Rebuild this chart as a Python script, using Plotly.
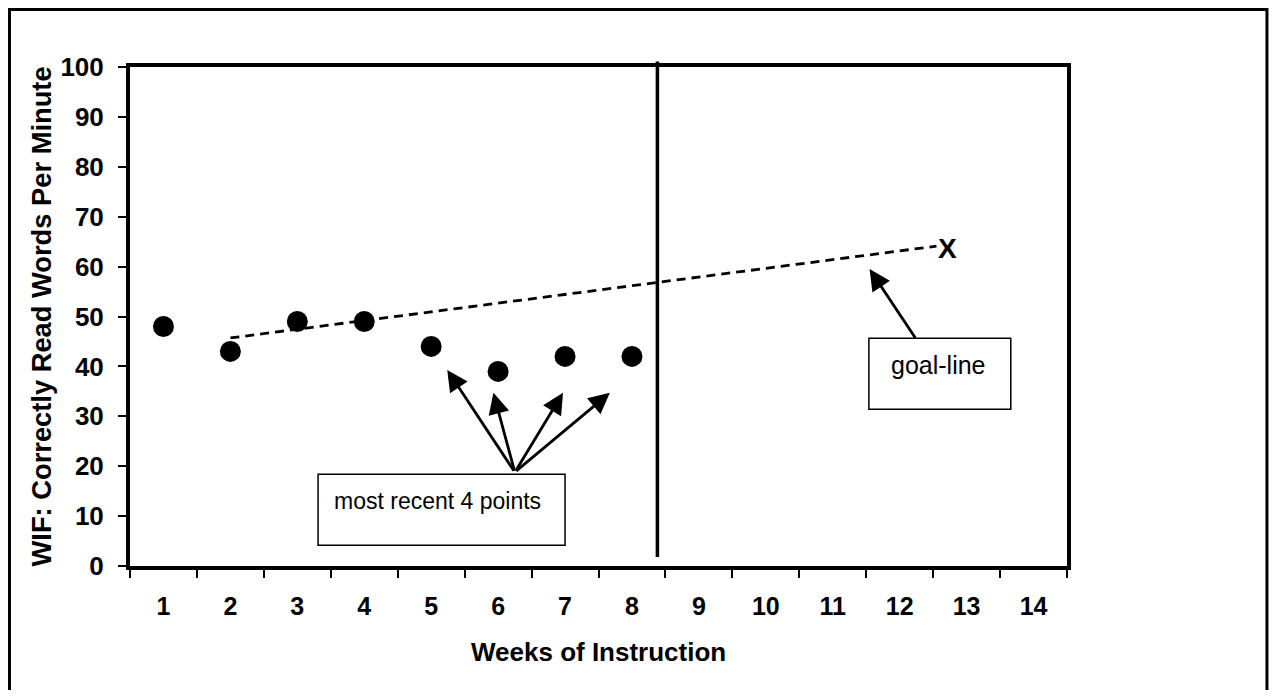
import plotly.graph_objects as go

# ---- data ----
week_labels = [str(i) for i in range(1, 15)]
weeks = list(range(1, 15))
obs_weeks = [1, 2, 3, 4, 5, 6, 7, 8]
obs_scores = [48, 43, 49, 49, 44, 39, 42, 42]
goal_x = [2, 12.55]
goal_y = [45.7, 64.1]
goal_mark_x = 12.72
goal_mark_y = 63.7
decision_x = 8.38
y_ticks = list(range(0, 101, 10))
recent_arrow_tail = (6.25, 18.8)
recent_arrow_heads = [(5.24, 39.3), (5.93, 34.7), (6.97, 34.7), (7.67, 34.7)]
goal_arrow_tail = (12.25, 45.4)
goal_arrow_head = (11.55, 59.5)
recent_box = (3.31, 7.0, 4.15, 18.38)
goal_box = (11.54, 13.66, 31.4, 45.63)

FONT = "Liberation Sans, Arial, Helvetica, sans-serif"

fig = go.Figure()

fig.add_trace(go.Scatter(
    x=goal_x, y=goal_y, mode="lines",
    line=dict(color="black", width=2.8, dash="9px,6px"),
    hoverinfo="skip", showlegend=False))

fig.add_trace(go.Scatter(
    x=obs_weeks, y=obs_scores, mode="markers",
    marker=dict(color="black", size=21),
    showlegend=False))

shapes = []
# decision (vertical) line
shapes.append(dict(type="line", xref="x", yref="paper",
                   x0=decision_x, x1=decision_x, y0=0.018, y1=1.011,
                   line=dict(color="black", width=3.5)))
# text boxes
for (x0, x1, y0, y1) in [recent_box, goal_box]:
    shapes.append(dict(type="rect", xref="x", yref="y",
                       x0=x0, x1=x1, y0=y0, y1=y1,
                       line=dict(color="black", width=1.5),
                       fillcolor="white", layer="below"))
# outer frame
shapes.append(dict(type="rect", xref="paper", yref="paper",
                   x0=-0.1286, x1=1.2134, y0=-0.30, y1=1.1152,
                   line=dict(color="black", width=3)))

annotations = []
for hx, hy in recent_arrow_heads:
    annotations.append(dict(x=hx, y=hy, ax=recent_arrow_tail[0], ay=recent_arrow_tail[1],
                            xref="x", yref="y", axref="x", ayref="y", text="",
                            showarrow=True, arrowhead=2, arrowsize=1.5,
                            arrowwidth=2.8, arrowcolor="black"))
annotations.append(dict(x=goal_arrow_head[0], y=goal_arrow_head[1],
                        ax=goal_arrow_tail[0], ay=goal_arrow_tail[1],
                        xref="x", yref="y", axref="x", ayref="y", text="",
                        showarrow=True, arrowhead=2, arrowsize=1.5,
                        arrowwidth=2.8, arrowcolor="black"))
annotations.append(dict(x=5.10, y=13.1, xref="x", yref="y",
                        text="most recent 4 points", showarrow=False,
                        font=dict(family=FONT, size=23, color="black")))
annotations.append(dict(x=12.58, y=40.3, xref="x", yref="y",
                        text="goal-line", showarrow=False,
                        font=dict(family=FONT, size=25, color="black")))
annotations.append(dict(x=goal_mark_x, y=goal_mark_y, xref="x", yref="y",
                        text="<b>X</b>", showarrow=False,
                        font=dict(family=FONT, size=28, color="black")))
# axis titles
annotations.append(dict(x=0.5, y=-0.172, xref="paper", yref="paper",
                        xanchor="center", yanchor="middle",
                        text="<b>Weeks of Instruction</b>", showarrow=False,
                        font=dict(family=FONT, size=26, color="black")))
annotations.append(dict(x=-0.094, y=0.5, xref="paper", yref="paper",
                        xanchor="center", yanchor="middle",
                        text="<b>WIF: Correctly Read Words Per Minute</b>", showarrow=False,
                        textangle=-90,
                        font=dict(family=FONT, size=27.3, color="black")))

fig.update_layout(
    width=1261, height=682,
    margin=dict(l=122, r=202, t=59, b=124),
    paper_bgcolor="white", plot_bgcolor="white",
    shapes=shapes, annotations=annotations,
    showlegend=False,
    font=dict(family=FONT, color="black"),
)

fig.update_xaxes(
    range=[0.5, 14.5], tickvals=weeks, ticktext=week_labels,
    ticks="outside", ticklen=8, tickcolor="rgba(0,0,0,0)",
    ticklabelstandoff=7,
    tickfont=dict(family=FONT, size=25, color="black", weight="bold"),
    minor=dict(tickvals=[w + 0.5 for w in [0] + weeks], ticks="outside",
               ticklen=8, tickwidth=2, tickcolor="black", showgrid=False),
    showline=True, linecolor="black", linewidth=4, mirror=True,
    showgrid=False, zeroline=False,
)
fig.update_yaxes(
    range=[0, 100], tickvals=y_ticks,
    ticks="outside", ticklen=8, tickwidth=2, tickcolor="black",
    ticklabelstandoff=9,
    tickfont=dict(family=FONT, size=26, color="black", weight="bold"),
    showline=True, linecolor="black", linewidth=4, mirror=True,
    showgrid=False, zeroline=False,
)

fig.write_html("out.html")
